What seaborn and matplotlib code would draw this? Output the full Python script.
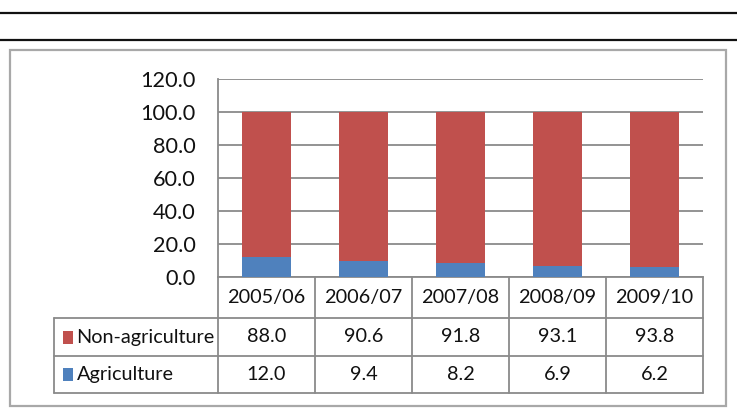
import matplotlib
matplotlib.use("Agg")
import matplotlib.pyplot as plt
import seaborn as sns
import pandas as pd
from matplotlib.transforms import blended_transform_factory
from matplotlib.lines import Line2D
from matplotlib.patches import Rectangle

# ---------------- data ----------------
years = ["2005/06", "2006/07", "2007/08", "2008/09", "2009/10"]
non_agriculture = [88.0, 90.6, 91.8, 93.1, 93.8]
agriculture = [12.0, 9.4, 8.2, 6.9, 6.2]
series_names = ["Non-agriculture", "Agriculture"]
yticks = [0, 20, 40, 60, 80, 100, 120]

RED = "#C0504D"
BLUE = "#4F81BD"
GRID = "#8a8a8a"
TXT = "#111111"

sns.set_theme(style="white")
plt.rcParams['font.family'] = ['Lato', 'DejaVu Sans']

W, H = 737, 413
fig = plt.figure(figsize=(W / 100, H / 100), dpi=100)


def fx(px):
    return px / W


def fy(py):
    return 1 - py / H


ax = fig.add_axes([fx(218), fy(277), fx(703) - fx(218), fy(79) - fy(277)])

df = pd.DataFrame({"year": years, "agri": agriculture, "non": non_agriculture})
df["total"] = df["agri"] + df["non"]
sns.barplot(data=df, x="year", y="total", color=RED, width=0.5, ax=ax,
            saturation=1, linewidth=0, zorder=3)
sns.barplot(data=df, x="year", y="agri", color=BLUE, width=0.5, ax=ax,
            saturation=1, linewidth=0, zorder=4)

ax.set_xlim(-0.5, len(years) - 0.5)
ax.set_ylim(0, 120)
ax.set_yticks(yticks)
ax.set_yticklabels([f"{v:.1f}" for v in yticks])
ax.set_xticks([])
ax.set_xlabel("")
ax.set_ylabel("")
ax.grid(axis="y", color=GRID, linewidth=1.3, zorder=0)
ax.set_axisbelow(True)
for s in ["top", "right"]:
    ax.spines[s].set_visible(False)
for s in ["left", "bottom"]:
    ax.spines[s].set_color(GRID)
    ax.spines[s].set_linewidth(1.3)
ax.tick_params(axis="y", length=0, pad=16, labelsize=15.6, labelcolor=TXT)

# ---------------- data table ----------------
trans = blended_transform_factory(ax.transData, fig.transFigure)
lw = 1.3
y_head_top, y_head_bot, y_r1_bot, y_r2_bot = 277, 318, 356, 393
x_tab_left = 54
FS = 14.3

# vertical lines between categories
for i in range(len(years) + 1):
    fig.add_artist(Line2D([i - 0.5, i - 0.5], [fy(y_head_top), fy(y_r2_bot)],
                          transform=trans, color=GRID, lw=lw))
# horizontal lines
for yy in [y_head_bot, y_r1_bot, y_r2_bot]:
    fig.add_artist(Line2D([fx(x_tab_left), fx(703)], [fy(yy), fy(yy)],
                          transform=fig.transFigure, color=GRID, lw=lw))
fig.add_artist(Line2D([fx(x_tab_left), fx(x_tab_left)], [fy(y_head_bot), fy(y_r2_bot)],
                      transform=fig.transFigure, color=GRID, lw=lw))

# header labels
for i, yr in enumerate(years):
    fig.text(i, fy((y_head_top + y_head_bot) / 2), yr, transform=trans,
             ha="center", va="center", fontsize=FS, color=TXT)

rows = [(series_names[0], non_agriculture, RED, y_head_bot, y_r1_bot),
        (series_names[1], agriculture, BLUE, y_r1_bot, y_r2_bot)]
for name, vals, col, top, bot in rows:
    yc = (top + bot) / 2
    for i, v in enumerate(vals):
        fig.text(i, fy(yc), f"{v:.1f}", transform=trans, ha="center",
                 va="center", fontsize=FS, color=TXT)
    fig.add_artist(Rectangle((fx(63), fy(yc + 6.5)), fx(10), 13 / H,
                             transform=fig.transFigure, color=col, lw=0))
    fig.text(fx(76.5), fy(yc), name, ha="left", va="center", fontsize=FS, color=TXT)

# ---------------- outer decoration ----------------
fig.add_artist(Rectangle((fx(10), fy(406)), fx(726) - fx(10), fy(50) - fy(406),
                         transform=fig.transFigure, fill=False,
                         edgecolor="#a8a8a8", lw=1.6))
for yy in [12.5, 40]:
    fig.add_artist(Line2D([0, 1], [fy(yy), fy(yy)], transform=fig.transFigure,
                          color="#111111", lw=1.6))

fig.savefig("out.png", dpi=100)
